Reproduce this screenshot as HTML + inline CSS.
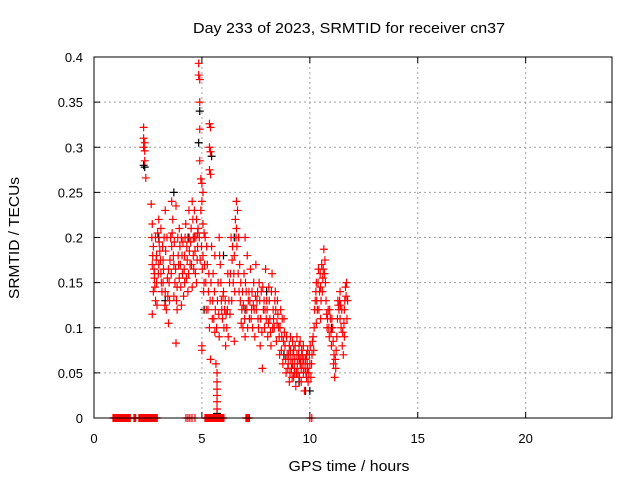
<!DOCTYPE html>
<html><head><meta charset="utf-8"><style>
body{margin:0;background:#fff;}
svg{display:block;font-family:"Liberation Sans",sans-serif;}
</style></head><body>
<svg id="chart" width="640" height="480">
<text x="349" y="33" font-size="15" text-anchor="middle" textLength="312" lengthAdjust="spacingAndGlyphs">Day 233 of 2023, SRMTID for receiver cn37</text>
<text x="349" y="471" font-size="15" text-anchor="middle" textLength="121" lengthAdjust="spacingAndGlyphs">GPS time / hours</text>
<text transform="translate(19,238) rotate(-90)" font-size="15" text-anchor="middle" textLength="122" lengthAdjust="spacingAndGlyphs">SRMTID / TECUs</text>
<g id="grid"></g>
<g id="ticks"></g>
<g id="marks"></g>
<rect x="94" y="57" width="518" height="361" fill="none" stroke="#000" stroke-width="1"/>
</svg>
<script>
const xTicks=[0,5,10,15,20];
const yTicks=[0,0.05,0.1,0.15,0.2,0.25,0.3,0.35,0.4];
const yTickLabels=["0","0.05","0.1","0.15","0.2","0.25","0.3","0.35","0.4"];
const blackPts=[[2.3,0.28],[2.35,0.278],[3.7,0.25],[3.3,0.13],[4.9,0.34],[4.85,0.305],[5.45,0.29],[4.4,0.2],[3.0,0.2],[6.0,0.18],[7.0,0.12],[8.0,0.14],[9.5,0.04],[9.8,0.03],[10.0,0.03],[5.7,0.005],[5.1,0.12],[6.5,0.2],[8.8,0.07],[11.0,0.1]];
const redPts=[[2.3,0.322],[2.3,0.31],[2.35,0.305],[2.3,0.30],[2.35,0.296],[2.35,0.285],[2.4,0.266],
[2.65,0.237],[2.7,0.215],[2.75,0.19],[2.7,0.17],[2.8,0.155],[2.75,0.14],[2.85,0.13],[2.7,0.115],[2.9,0.18],[2.8,0.16],[2.95,0.205],[2.9,0.15],[2.85,0.2],
[3.0,0.22],[3.05,0.185],[3.1,0.16],[3.15,0.14],[3.2,0.175],[3.25,0.2],[3.3,0.23],[3.35,0.12],[3.4,0.155],[3.45,0.105],[3.3,0.14],[3.1,0.21],[3.2,0.15],[3.0,0.17],[3.5,0.13],[3.45,0.165],
[3.55,0.2],[3.6,0.24],[3.65,0.22],[3.7,0.17],[3.75,0.15],[3.8,0.083],[3.85,0.12],[3.9,0.18],[3.95,0.21],[3.6,0.19],[3.7,0.135],[3.85,0.145],[3.95,0.155],[3.8,0.235],
[4.0,0.17],[4.05,0.2],[4.1,0.16],[4.15,0.135],[4.2,0.18],[4.25,0.215],[4.3,0.19],[4.35,0.14],[4.4,0.23],[4.45,0.17],[4.2,0.15],[4.05,0.125],[4.35,0.2],
[4.5,0.21],[4.55,0.24],[4.6,0.18],[4.65,0.2],[4.7,0.16],[4.75,0.22],[4.8,0.19],[4.55,0.145],[4.65,0.23],[4.75,0.15],[4.6,0.2],[4.8,0.205],
[4.85,0.393],[4.85,0.38],[4.9,0.375],[4.9,0.35],[4.9,0.32],[4.9,0.285],[4.95,0.265],[5.0,0.26],[5.05,0.25],[5.0,0.24],[4.95,0.23],[5.05,0.215],[5.1,0.205],[5.0,0.08],[5.0,0.075],
[5.05,0.18],[5.1,0.15],[5.15,0.2],[5.2,0.12],[5.25,0.17],[5.3,0.14],[5.35,0.326],[5.4,0.322],[5.35,0.30],[5.4,0.295],[5.35,0.275],[5.4,0.27],[5.35,0.1],[5.45,0.19],[5.5,0.13],[5.4,0.065],
[5.55,0.11],[5.6,0.095],[5.65,0.06],[5.7,0.05],[5.7,0.04],[5.7,0.032],[5.7,0.025],[5.7,0.018],[5.7,0.01],[5.75,0.15],[5.8,0.2],[5.85,0.17],[5.9,0.13],[5.95,0.11],[5.6,0.18],[5.8,0.09],
[6.0,0.14],[6.05,0.12],[6.1,0.08],[6.15,0.1],[6.2,0.16],[6.25,0.13],[6.3,0.115],[6.35,0.2],[6.4,0.175],[6.45,0.15],[6.5,0.085],[6.55,0.22],[6.6,0.24],[6.65,0.23],[6.7,0.2],[6.6,0.21],[6.5,0.18],
[6.75,0.17],[6.8,0.15],[6.85,0.12],[6.9,0.1],[6.95,0.16],[7.0,0.09],[7.05,0.14],[7.1,0.18],[7.15,0.13],[7.2,0.11],[7.25,0.165],[7.3,0.12],[7.35,0.1],[7.4,0.15],[7.45,0.09],[7.0,0.2],
[7.5,0.17],[7.55,0.13],[7.6,0.11],[7.65,0.15],[7.7,0.08],[7.75,0.14],[7.8,0.055],[7.85,0.12],[7.9,0.1],[7.95,0.165],[8.0,0.13],[8.05,0.09],[8.1,0.145],[8.15,0.11],[8.2,0.08],[8.25,0.16],
[8.3,0.12],[8.35,0.1],[8.4,0.14],[8.45,0.085],[8.5,0.13],[8.55,0.1],[8.6,0.07],[8.65,0.12],[8.7,0.09],[8.75,0.06],[8.8,0.11],[8.85,0.08],[8.9,0.05],[8.95,0.07],
[9.0,0.06],[9.05,0.04],[9.1,0.075],[9.15,0.055],[9.2,0.085],[9.25,0.045],[9.3,0.065],[9.35,0.035],[9.4,0.07],[9.45,0.05],[9.5,0.08],[9.55,0.06],[9.6,0.04],[9.65,0.07],[9.7,0.05],[9.75,0.03],[9.8,0.065],[9.85,0.045],[9.9,0.075],[9.95,0.05],[9.2,0.06],[9.4,0.09],[9.6,0.055],[9.05,0.08],
[10.0,0.06],[10.05,0.045],[10.1,0.07],[10.15,0.09],[10.2,0.1],[10.25,0.13],[10.3,0.15],[10.35,0.12],[10.4,0.165],[10.45,0.14],[10.5,0.11],[10.55,0.17],[10.6,0.155],[10.65,0.187],[10.7,0.175],[10.75,0.13],[10.3,0.105],[10.5,0.145],
[10.8,0.1],[10.85,0.12],[10.9,0.09],[10.95,0.11],[11.0,0.08],[11.05,0.1],[11.1,0.06],[11.15,0.045],[11.2,0.055],[11.25,0.09],[11.3,0.13],[11.35,0.12],[11.4,0.14],[11.45,0.1],[11.5,0.08],[11.55,0.07],[11.6,0.12],[11.65,0.145],[11.7,0.15],[11.75,0.13],[11.4,0.11],[11.6,0.09]];
const redPtsExtra=[[2.68,0.2],[2.72,0.18],[2.78,0.165],[2.82,0.145],[2.88,0.175],[2.92,0.125],[2.98,0.16],[3.02,0.195],[3.08,0.175],[3.12,0.15],[3.18,0.19],[3.22,0.165],[3.28,0.125],[3.32,0.185],[3.38,0.2],[3.42,0.135],[3.48,0.15],[3.52,0.175],[3.58,0.16],[3.62,0.205],[3.68,0.18],[3.72,0.195],[3.78,0.165],[3.82,0.13],[3.88,0.2],[3.92,0.17],[3.98,0.19],
[4.02,0.145],[4.08,0.18],[4.12,0.195],[4.18,0.165],[4.22,0.2],[4.28,0.155],[4.32,0.175],[4.38,0.16],[4.42,0.185],[4.48,0.195],[4.52,0.17],[4.58,0.22],[4.62,0.165],[4.68,0.185],[4.72,0.2],[4.78,0.175],[4.82,0.21],[4.88,0.2],[4.92,0.175],[4.98,0.19],[5.02,0.165],[5.08,0.14],[5.12,0.17],[5.18,0.15],[5.22,0.19],[5.28,0.12],[5.32,0.16],[5.38,0.13],[5.42,0.15],[5.48,0.11],[5.52,0.16],[5.58,0.14],[5.62,0.12],[5.68,0.1],[5.72,0.13],[5.78,0.115],[5.82,0.18],[5.88,0.15],[5.92,0.12],[5.98,0.135],
[6.02,0.1],[6.08,0.13],[6.12,0.115],[6.18,0.12],[6.22,0.09],[6.28,0.15],[6.32,0.16],[6.38,0.13],[6.42,0.19],[6.48,0.16],[6.52,0.14],[6.58,0.2],[6.62,0.19],[6.68,0.16],[6.72,0.14],[6.78,0.13],[6.82,0.105],[6.88,0.14],[6.92,0.125],[6.98,0.11],[7.02,0.15],[7.08,0.12],[7.12,0.1],[7.18,0.14],[7.22,0.13],[7.28,0.11],[7.32,0.14],[7.38,0.125],[7.42,0.12],[7.48,0.135],[7.52,0.12],[7.58,0.14],[7.62,0.1],[7.68,0.13],[7.72,0.11],[7.78,0.095],[7.82,0.145],[7.88,0.13],[7.92,0.12],[7.98,0.11],
[8.02,0.12],[8.08,0.105],[8.12,0.13],[8.18,0.095],[8.22,0.14],[8.28,0.1],[8.32,0.11],[8.38,0.13],[8.42,0.12],[8.48,0.105],[8.52,0.115],[8.58,0.09],[8.62,0.1],[8.68,0.075],[8.72,0.11],[8.78,0.085],[8.82,0.095],[8.88,0.065],[8.92,0.09],[8.98,0.055],
[9.02,0.07],[9.08,0.05],[9.12,0.065],[9.18,0.045],[9.22,0.07],[9.28,0.055],[9.32,0.08],[9.38,0.05],[9.42,0.06],[9.48,0.07],[9.52,0.045],[9.58,0.065],[9.62,0.075],[9.68,0.06],[9.72,0.065],[9.78,0.055],[9.82,0.05],[9.88,0.06],[9.92,0.04],[9.98,0.07],[9.1,0.09],[9.3,0.05],[9.5,0.065],[9.7,0.08],[9.9,0.055],[9.25,0.075],[9.55,0.085],[9.85,0.07],
[10.02,0.08],[10.08,0.06],[10.12,0.085],[10.18,0.075],[10.22,0.12],[10.28,0.14],[10.32,0.13],[10.38,0.15],[10.42,0.12],[10.48,0.16],[10.52,0.13],[10.58,0.14],[10.62,0.165],[10.68,0.16],[10.72,0.15],[10.78,0.115],[10.82,0.11],[10.88,0.1],[10.92,0.12],[10.98,0.095],[11.02,0.11],[11.08,0.085],[11.12,0.07],[11.18,0.065],[11.22,0.075],[11.28,0.11],[11.32,0.125],[11.38,0.13],[11.42,0.125],[11.48,0.12],[11.52,0.095],[11.58,0.105],[11.62,0.13],[11.68,0.135],[11.72,0.11]];
const zeroStart=[0.88,1.85,2.08,2.41,4.26,4.35,4.44,4.54,4.68,5.14,7.04,10.0,10.09];
const zeroEnd=[1.71,1.94,2.36,2.96,4.27,4.36,4.45,4.55,4.69,6.02,7.22,10.01,10.1];
const X0=94,X1=612,Y0=418,Y1=57;
const sx=h=>X0+h*(X1-X0)/24;
const sy=v=>Y0-v*(Y0-Y1)/0.4;
const NS="http://www.w3.org/2000/svg";
function mk(tag,attrs,parent){const e=document.createElementNS(NS,tag);for(const k in attrs)e.setAttribute(k,attrs[k]);parent.appendChild(e);return e;}
const grid=document.getElementById('grid'),ticks=document.getElementById('ticks'),marks=document.getElementById('marks');
xTicks.forEach(t=>{const x=sx(t);
 if(t>0){const g=mk('line',{x1:x,x2:x,y1:Y1,y2:Y0,stroke:'#a0a0a0','stroke-dasharray':'2,3'},grid);
 
 }
 mk('line',{x1:x,x2:x,y1:Y0,y2:Y0-6,stroke:'#000'},ticks);mk('line',{x1:x,x2:x,y1:Y1,y2:Y1+6,stroke:'#000'},ticks);
 const l=mk('text',{x:x,y:443,'font-size':13,'text-anchor':'middle'},ticks);l.textContent=t;
 
 });
yTicks.forEach((t,i)=>{const y=sy(t);
 if(t>0&&t<0.4){const g=mk('line',{x1:X0,x2:X1,y1:y,y2:y,stroke:'#a0a0a0','stroke-dasharray':'2,3'},grid);
 
 }
 mk('line',{x1:X0,x2:X0+6,y1:y,y2:y,stroke:'#000'},ticks);mk('line',{x1:X1,x2:X1-6,y1:y,y2:y,stroke:'#000'},ticks);
 const l=mk('text',{x:83,y:y+5,'font-size':13,'text-anchor':'end'},ticks);l.textContent=yTickLabels[i];
 
 });
function plus(h,v,col,name){const x=sx(h),y=sy(v);
 const p=mk('path',{d:`M${x-4},${y}h8M${x},${y-4}v8`,stroke:col,'stroke-width':1.2,fill:'none'},marks);
 
 }
blackPts.forEach(p=>plus(p[0],p[1],'#000','black-point'));
redPts.forEach(p=>plus(p[0],p[1],'#f00','red-point'));
redPtsExtra.forEach(p=>plus(p[0],p[1],'#f00','red-point'));
zeroStart.forEach((s,i)=>{const e=zeroEnd[i];
 for(let h=s;h<=e+1e-9;h+=0.04)plus(h,0,'#f00','zero-point');});
</script>
</body></html>
